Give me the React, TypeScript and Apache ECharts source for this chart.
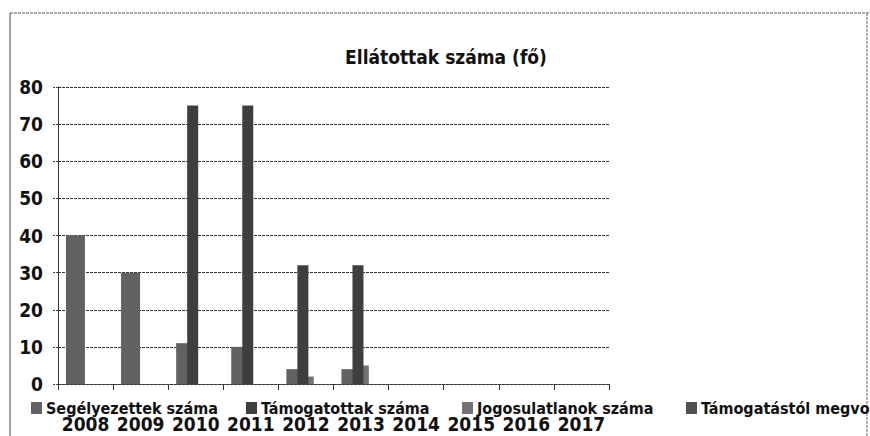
import React, { useEffect, useRef } from "react";
import * as echarts from "echarts";

const categories = ["2008", "2009", "2010", "2011", "2012", "2013", "2014", "2015", "2016", "2017"];
const seriesNames = [
  "Segélyezettek száma",
  "Támogatottak száma",
  "Jogosulatlanok száma",
  "Támogatástól megvontak száma",
];
const segelyezettek = [40, 30, 11, 10, 4, 4, 0, 0, 0, 0];
const tamogatottak = [0, 0, 75, 75, 32, 32, 0, 0, 0, 0];
const jogosulatlanok = [0, 0, 0, 0, 2, 5, 0, 0, 0, 0];
const megvontak = [0, 0, 0, 0, 0, 0, 0, 0, 0, 0];
const yTicks = [0, 10, 20, 30, 40, 50, 60, 70, 80];

const FONT = "'Liberation Sans Narrow', 'DejaVu Sans Condensed', sans-serif";

export default function App() {
  const ref = useRef<HTMLDivElement>(null);
  useEffect(() => {
    if (!ref.current) return;
    const chart = echarts.init(ref.current, undefined, { renderer: "svg" });
    const colors = ["#626262", "#3e3e3e", "#737373", "#505050"];
    const values = [segelyezettek, tamogatottak, jogosulatlanok, megvontak];
    const widths = [19, 11, 10, 16];
    const legendLefts = [31, 246, 462, 686];
    chart.setOption({
      animation: false,
      backgroundColor: "#ffffff",
      textStyle: { fontFamily: FONT },
      title: {
        text: "Ellátottak száma (fő)",
        left: 441,
        textAlign: "center",
        top: 42,
        textStyle: { fontFamily: FONT, fontWeight: "bold", fontSize: 19, color: "#111" },
      },
      legend: seriesNames.map((n, i) => ({
        data: [n],
        left: legendLefts[i],
        top: 400,
        itemWidth: 11,
        itemHeight: 12,
        itemGap: 0,
        padding: 0,
        textStyle: { fontFamily: FONT, fontWeight: "bold", fontSize: 16, color: "#111", padding: [0, 0, 0, -1] },
        icon: "rect",
        selectedMode: false,
      })),
      grid: { left: 58, right: 261, top: 87, bottom: 52, containLabel: false },
      xAxis: {
        type: "category",
        data: categories,
        axisLine: { show: true, lineStyle: { color: "#333", type: [3, 1], width: 1 } },
        axisTick: { show: true, length: 6, lineStyle: { color: "#333" } },
        axisLabel: {
          fontFamily: FONT,
          fontWeight: "bold",
          fontSize: 19,
          color: "#111",
          margin: 30,
          interval: 0,
        },
      },
      yAxis: {
        type: "value",
        min: yTicks[0],
        max: yTicks[yTicks.length - 1],
        interval: 10,
        axisLine: { show: true, lineStyle: { color: "#333", width: 1 } },
        axisTick: { show: true, length: 5, lineStyle: { color: "#444", type: [2, 1] } },
        axisLabel: { fontFamily: FONT, fontWeight: "bold", fontSize: 19, color: "#111", margin: 15 },
        splitLine: { show: true, lineStyle: { color: "#333", type: [3, 1], width: 1 } },
      },
      series: seriesNames.map((n, i) => ({
        name: n,
        type: "bar",
        data: values[i],
        barWidth: widths[i],
        barGap: "-42%",
        z: i === 1 ? 4 : 2,
        itemStyle: { color: colors[i] },
      })),
      graphic: [
        { type: "line", shape: { x1: 10, y1: 13, x2: 870, y2: 13 }, style: { stroke: "#555", lineWidth: 1, lineDash: [3, 1] } },
        { type: "line", shape: { x1: 10, y1: 13, x2: 10, y2: 436 }, style: { stroke: "#444", lineWidth: 1 } },
        { type: "line", shape: { x1: 867, y1: 13, x2: 867, y2: 436 }, style: { stroke: "#666", lineWidth: 1, lineDash: [3, 1] } },
      ],
    });
    return () => chart.dispose();
  }, []);
  return (
    <div
      ref={ref}
      style={{ position: "absolute", left: 0, top: 0, width: 870, height: 436, background: "#fff" }}
    />
  );
}
